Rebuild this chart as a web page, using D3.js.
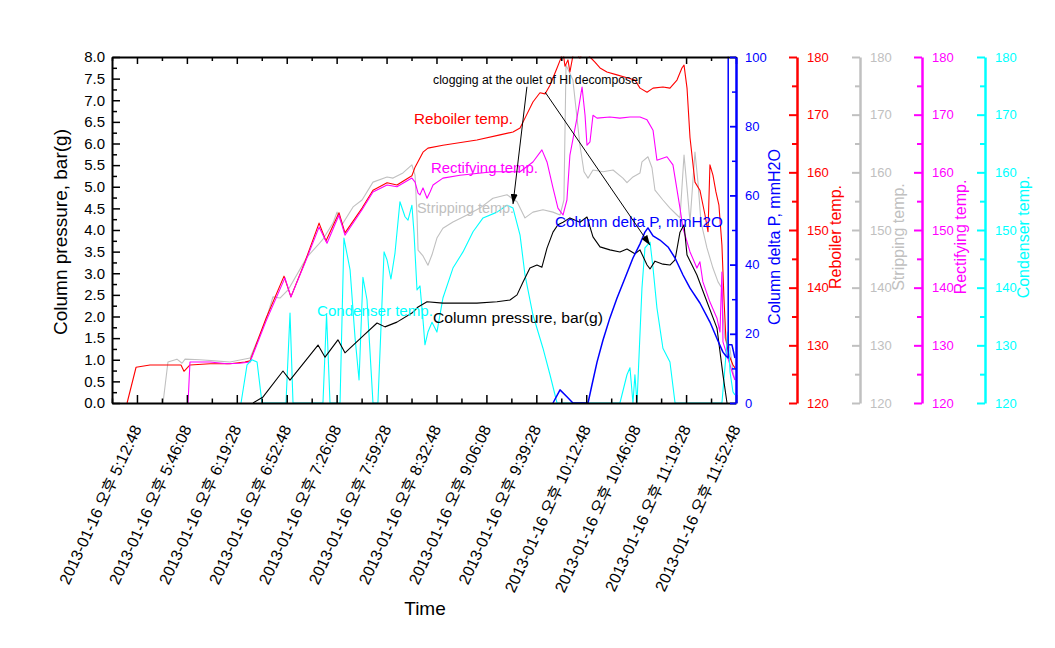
<!DOCTYPE html>
<html><head><meta charset="utf-8">
<script src="https://cdn.jsdelivr.net/npm/d3@7"></script>
<style>
body{margin:0;background:#fff}
svg{display:block}
text{font-family:"Liberation Sans",Arial,"Noto Sans CJK KR",sans-serif}
</style>
</head><body>
<svg id="c" width="1055" height="648"></svg>
<script>
// ---- DATA (time = minutes after 17:00 on 2013-01-16) ----
const xTickLabels = ["2013-01-16 오후 5:12:48","2013-01-16 오후 5:46:08","2013-01-16 오후 6:19:28","2013-01-16 오후 6:52:48","2013-01-16 오후 7:26:08","2013-01-16 오후 7:59:28","2013-01-16 오후 8:32:48","2013-01-16 오후 9:06:08","2013-01-16 오후 9:39:28","2013-01-16 오후 10:12:48","2013-01-16 오후 10:46:08","2013-01-16 오후 11:19:28","2013-01-16 오후 11:52:48"];
const pressureTicks = [0,0.5,1,1.5,2,2.5,3,3.5,4,4.5,5,5.5,6,6.5,7,7.5,8];
const deltaPTicks = [0,20,40,60,80,100];
const tempTicks = [120,130,140,150,160,170,180];

const reboiler = [[6.2,120.0],[12.2,126.2],[21.5,126.6],[34.9,126.6],[42.2,126.6],[44.2,125.5],[48.2,126.6],[61.6,126.8],[74.9,126.8],[84.9,127.1],[88.3,127.3],[99.0,134.7],[111.0,142.0],[115.6,138.4],[125.0,144.5],[134.4,151.2],[139.0,148.1],[147.7,153.0],[151.7,149.5],[163.1,153.8],[170.4,156.9],[179.8,158.2],[186.4,157.8],[196.4,159.4],[198.5,160.9],[203.8,163.5],[207.1,164.2],[217.1,164.7],[239.8,165.6],[255.2,166.5],[263.9,167.0],[268.6,167.7],[271.9,169.4],[277.2,172.2],[281.9,173.8],[285.3,173.6],[288.6,175.1],[293.3,178.1],[295.9,179.8],[297.3,180.9],[298.6,178.4],[300.6,179.5],[301.9,177.4],[304.6,181.2],[308.6,179.8],[311.3,181.2],[315.3,180.0],[318.6,179.1],[322.0,178.1],[326.6,177.4],[333.3,176.9],[340.0,176.4],[345.3,176.0],[348.7,174.6],[353.4,173.9],[357.4,174.6],[364.0,174.8],[368.7,174.6],[373.4,176.0],[376.7,178.1],[378.1,178.6],[380.1,174.6],[382.1,166.0],[385.4,158.3],[388.7,156.9],[392.1,152.6],[394.1,149.7],[395.4,161.3],[397.4,159.5],[399.4,156.6],[401.4,154.3],[403.4,147.4],[404.8,137.9],[406.1,130.9],[408.1,128.3],[410.8,126.6],[412.1,126.1]];

const stripping = [[30.2,120.0],[33.5,127.1],[39.5,127.6],[42.9,126.9],[44.9,127.6],[54.9,127.5],[64.9,127.3],[74.9,127.1],[88.3,127.8],[99.0,134.4],[103.6,138.4],[108.3,138.2],[113.7,139.6],[126.3,145.3],[133.7,147.4],[137.0,148.4],[143.7,151.2],[146.4,153.1],[149.7,150.9],[157.1,154.0],[163.1,155.2],[170.4,158.3],[179.8,159.2],[183.8,159.0],[190.4,159.9],[196.4,161.3],[198.5,159.5],[199.8,152.6],[200.5,146.5],[203.8,145.5],[207.1,143.9],[209.8,145.7],[213.1,148.6],[217.1,150.3],[223.8,151.4],[233.2,152.6],[241.8,153.8],[250.5,155.5],[259.9,156.1],[266.6,154.9],[271.9,152.1],[277.2,153.1],[283.9,153.5],[290.6,153.1],[295.3,152.6],[297.9,155.2],[299.3,178.6],[303.9,176.0],[308.6,164.7],[311.3,160.1],[314.0,159.0],[317.3,160.4],[324.0,160.1],[330.7,160.4],[337.3,159.0],[340.0,158.2],[344.0,159.2],[348.7,159.9],[350.0,161.8],[354.0,162.7],[356.7,160.8],[358.7,156.9],[364.0,155.2],[368.7,153.8],[373.4,152.6],[375.4,152.1],[378.1,163.0],[380.1,157.3],[382.1,151.4],[385.4,163.5],[387.4,158.3],[389.4,151.4],[393.4,146.9],[397.4,143.4],[400.8,141.0],[403.4,139.9],[404.1,135.3],[405.4,131.3],[408.8,129.5],[410.8,125.4],[412.1,124.0]];

const rectifying = [[46.9,120.0],[48.2,127.1],[61.6,127.1],[72.9,126.8],[81.6,126.9],[88.3,127.1],[99.0,134.2],[111.6,141.7],[115.6,138.4],[125.0,144.3],[134.4,150.5],[139.7,147.7],[147.7,152.6],[151.7,149.1],[163.1,153.5],[170.4,156.6],[179.8,157.8],[186.4,157.5],[196.4,159.0],[198.5,158.3],[200.5,156.4],[201.8,156.1],[203.8,157.3],[206.5,155.5],[208.5,156.6],[210.5,157.8],[217.1,159.0],[228.5,159.5],[250.5,160.1],[268.6,160.1],[277.2,161.8],[283.2,163.9],[286.6,161.8],[290.6,157.3],[293.9,153.8],[297.3,152.6],[299.9,155.2],[301.9,163.0],[306.6,169.4],[310.0,174.8],[312.0,169.9],[313.3,164.7],[315.3,165.3],[317.3,169.9],[320.0,169.4],[328.6,169.6],[335.3,169.4],[342.0,169.6],[348.7,169.6],[353.4,169.1],[357.4,167.3],[360.0,162.1],[366.7,162.7],[370.7,161.3],[375.4,153.8],[377.4,150.3],[382.1,146.2],[386.7,143.4],[388.7,144.5],[390.7,141.0],[395.4,137.5],[400.1,134.7],[402.1,132.3],[403.4,142.7],[404.1,130.6],[406.8,128.3],[410.8,124.9],[412.1,124.0]];

const condenser = [[82.3,120.0],[86.3,126.6],[89.6,127.5],[93.0,127.1],[96.3,120.0],[112.3,120.0],[115.0,135.6],[117.0,120.0],[137.0,120.0],[139.4,135.4],[141.7,120.0],[148.4,120.0],[151.0,148.6],[155.1,143.1],[158.4,131.4],[161.1,124.0],[163.7,141.8],[166.4,137.9],[170.4,120.0],[173.7,120.0],[177.8,146.2],[179.8,144.8],[182.4,141.5],[185.1,146.0],[188.4,154.9],[191.8,152.3],[193.8,151.7],[196.4,154.3],[197.8,149.5],[199.8,139.6],[201.8,140.3],[203.8,134.4],[205.1,130.1],[207.1,132.3],[209.8,134.0],[213.1,132.3],[217.1,138.2],[223.8,143.4],[230.5,146.2],[237.2,149.7],[243.9,152.1],[253.2,153.1],[259.9,154.3],[263.9,153.8],[268.6,149.1],[271.9,142.2],[277.2,135.3],[283.9,129.5],[288.6,124.9],[293.3,120.0],[335.3,120.0],[340.0,124.9],[342.0,126.1],[344.0,120.0],[345.3,124.9],[346.7,120.0],[350.0,139.9],[352.0,146.9],[355.4,147.9],[357.4,143.4],[360.0,136.5],[364.0,129.5],[368.7,127.1],[372.1,120.0],[403.4,120.0],[405.4,126.1],[407.4,132.3],[408.8,125.4],[410.8,121.9],[412.1,121.4]];

const pressure = [[90.3,0.00],[97.0,0.14],[110.3,0.74],[115.0,0.53],[133.7,1.34],[138.4,1.06],[147.0,1.46],[151.7,1.16],[163.1,1.53],[173.1,1.85],[178.4,1.76],[186.4,1.87],[196.4,2.08],[200.5,2.22],[206.5,2.34],[217.1,2.31],[239.8,2.31],[253.2,2.34],[261.9,2.38],[266.6,2.50],[270.6,2.80],[275.2,3.12],[279.9,3.19],[283.2,3.14],[286.6,3.58],[290.6,3.95],[293.9,4.12],[297.3,4.18],[301.9,4.28],[308.6,4.18],[313.3,4.30],[317.3,3.84],[322.0,3.61],[328.6,3.54],[335.3,3.49],[340.0,3.56],[345.3,3.45],[348.7,3.54],[353.4,3.19],[355.4,3.10],[358.7,3.28],[364.0,3.21],[368.7,3.19],[372.1,3.31],[375.4,3.95],[378.1,4.12],[380.1,3.42],[386.7,2.96],[393.4,2.34],[400.1,1.73],[404.1,0.65],[406.8,0.00]];

const deltaP = [[290.6,0.0],[295.3,3.8],[299.9,1.8],[303.9,0.0],[314.0,0.0],[316.6,5.2],[320.0,11.8],[324.0,18.2],[328.6,24.6],[333.3,30.3],[338.7,36.1],[344.0,41.9],[348.7,46.0],[352.0,49.4],[354.0,50.6],[357.4,48.3],[362.0,47.1],[367.4,45.1],[372.1,41.9],[377.4,37.0],[382.1,33.2],[388.7,28.9],[395.4,23.4],[400.8,17.9],[404.1,14.7],[406.1,13.6],[407.6,13.0],[407.6,100],[407.6,16.8],[410.1,16.8],[412.1,13.0]];

// annotation texts (anchored in time / pressure units)
const noteTexts = ["Reboiler temp.","Rectifying temp.","Stripping temp.","Column delta P, mmH2O","Column pressure, bar(g)","Condenser temp.","clogging at the oulet of HI decomposer"];
const noteAnchors = [[197.8,6.45],[209.1,5.31],[199.8,4.39],[291.9,4.08],[210.5,1.85],[133.0,2.01],[210.5,7.38]];
const arrows = [[[273.2,7.31],[263.9,4.60]],[[285.3,7.19],[355.4,3.65]]];

// ---- LAYOUT ----
const W=1055,H=648, L=112, R=736, T=57, B=403;
const base = new Date(2013,0,16,17,0,0).getTime();
const toDate = m => new Date(base + m*60000);
const x = d3.scaleTime().domain([new Date(2013,0,16,16,56,8), new Date(2013,0,16,23,52,48)]).range([L,R]);
const yP = d3.scaleLinear().domain([0,8]).range([B,T]);
const yD = d3.scaleLinear().domain([0,100]).range([B,T]);
const yT = d3.scaleLinear().domain([120,180]).range([B,T]);

const parseLabel = s => { const m = s.match(/(\d+):(\d+):(\d+)$/); return new Date(2013,0,16,(+m[1])%12+12,+m[2],+m[3]); };
const majorDates = xTickLabels.map(parseLabel);
const minorDates = d3.range(0,13).map(i => new Date(majorDates[0].getTime() - 1000000 + i*2000000));

const svg = d3.select("#c");
svg.append("rect").attr("width",W).attr("height",H).attr("fill","#fff");
const defs = svg.append("defs");
defs.append("clipPath").attr("id","clip").append("rect").attr("x",L).attr("y",T-0.5).attr("width",R-L).attr("height",B-T+1);
defs.append("marker").attr("id","arr").attr("markerUnits","userSpaceOnUse").attr("markerWidth",10).attr("markerHeight",7)
  .attr("refX",10).attr("refY",3.5).attr("orient","auto").append("path").attr("d","M0,0L10,3.5L0,7z").attr("fill","#000");

// ---- SERIES ----
const g = svg.append("g").attr("clip-path","url(#clip)");
function drawSeries(data, yScale, color, width){
  g.append("path").datum(data)
    .attr("d", d3.line().x(d=>x(toDate(d[0]))).y(d=>yScale(d[1])))
    .attr("fill","none").attr("stroke",color).attr("stroke-width",width).attr("stroke-linejoin","round");
}
drawSeries(stripping, yT, "#c0c0c0", 1.1);
drawSeries(reboiler, yT, "#ff0000", 1.1);
drawSeries(rectifying, yT, "#ff00ff", 1.1);
drawSeries(condenser, yT, "#00ffff", 1.1);
drawSeries(pressure, yP, "#000000", 1.1);
drawSeries(deltaP, yD, "#0000ff", 1.5);

// ---- AXES ----
function styleAxis(sel, color, lw, tw){
  sel.select(".domain").attr("stroke",color).attr("stroke-width",lw);
  sel.selectAll(".tick line").attr("stroke",color).attr("stroke-width",tw);
  sel.selectAll("text").attr("fill",color);
}
// left
svg.append("g").attr("transform",`translate(${L},0)`)
  .call(d3.axisLeft(yP).tickValues(d3.range(0.25,8,0.5)).tickSize(-5).tickFormat(""))
  .call(s=>{s.select(".domain").remove(); s.selectAll("line").attr("stroke","#000").attr("stroke-width",1.5);});
const la = svg.append("g").attr("transform",`translate(${L},0)`)
  .call(d3.axisLeft(yP).tickValues(pressureTicks).tickFormat(d3.format(".1f")).tickSizeInner(-8).tickSizeOuter(0).tickPadding(7));
styleAxis(la,"#000",2,1.5); la.selectAll("text").attr("font-size",15);
// bottom
svg.append("g").attr("transform",`translate(0,${B})`)
  .call(d3.axisBottom(x).tickValues(minorDates).tickSize(-4.5).tickFormat(""))
  .call(s=>{s.select(".domain").remove(); s.selectAll("line").attr("stroke","#000").attr("stroke-width",1.5);});
const ba = svg.append("g").attr("transform",`translate(0,${B})`)
  .call(d3.axisBottom(x).tickValues(majorDates).tickSizeInner(-8).tickSizeOuter(0).tickFormat(""));
styleAxis(ba,"#000",2,1.5);
// top
svg.append("g").attr("transform",`translate(0,${T})`)
  .call(d3.axisTop(x).tickValues(minorDates).tickSize(-4).tickFormat(""))
  .call(s=>{s.select(".domain").remove(); s.selectAll("line").attr("stroke","#000").attr("stroke-width",1.5);});
const ta = svg.append("g").attr("transform",`translate(0,${T})`)
  .call(d3.axisTop(x).tickValues(majorDates).tickSizeInner(-7).tickSizeOuter(0).tickFormat(""));
styleAxis(ta,"#000",2,1.5);

// x tick labels (rotated)
svg.append("g").selectAll("text").data(majorDates).join("text")
  .attr("transform",d=>`translate(${x(d)},426) rotate(-65)`)
  .attr("text-anchor","end").attr("dy","0.35em").attr("font-size",16).attr("fill","#000")
  .text((d,i)=>xTickLabels[i]);

// blue right axis
svg.append("g").attr("transform",`translate(${R},0)`)
  .call(d3.axisRight(yD).tickValues([10,30,50,70,90]).tickSize(-4).tickFormat(""))
  .call(s=>{s.select(".domain").remove(); s.selectAll("line").attr("stroke","#0000ff").attr("stroke-width",1.5);});
const da = svg.append("g").attr("transform",`translate(${R},0)`)
  .call(d3.axisRight(yD).tickValues(deltaPTicks).tickSizeInner(-6).tickSizeOuter(0).tickPadding(9));
styleAxis(da,"#0000ff",2.5,1.8); da.selectAll("text").attr("font-size",13);

// temperature axes
const tempAxes = [{x:797,c:"#ff0000",t:"Reboiler temp."},{x:860,c:"#c0c0c0",t:"Stripping temp."},{x:922,c:"#ff00ff",t:"Rectifying temp."},{x:985,c:"#00ffff",t:"Condenser temp."}];
tempAxes.forEach(a=>{
  svg.append("g").attr("transform",`translate(${a.x},0)`)
    .call(d3.axisRight(yT).tickValues([125,135,145,155,165,175]).tickSize(-5).tickFormat(""))
    .call(s=>{s.select(".domain").remove(); s.selectAll("line").attr("stroke",a.c).attr("stroke-width",2);});
  const ax = svg.append("g").attr("transform",`translate(${a.x},0)`)
    .call(d3.axisRight(yT).tickValues(tempTicks).tickSizeInner(-8).tickSizeOuter(0).tickPadding(10));
  styleAxis(ax,a.c,2.5,2); ax.selectAll("text").attr("font-size",13);
  svg.append("text").attr("transform",`translate(${a.x+44},237) rotate(-90)`).attr("text-anchor","middle")
    .attr("font-size",16).attr("fill",a.c).text(a.t);
});

// axis titles
svg.append("text").attr("transform",`translate(67,232) rotate(-90)`).attr("text-anchor","middle").attr("font-size",19).attr("fill","#000").text("Column pressure, bar(g)");
svg.append("text").attr("transform",`translate(780,237) rotate(-90)`).attr("text-anchor","middle").attr("font-size",16).attr("fill","#0000ff").text("Column delta P, mmH2O");
svg.append("text").attr("x",425).attr("y",615).attr("text-anchor","middle").attr("font-size",19).attr("fill","#000").text("Time");

// ---- ANNOTATIONS ----
const noteColors = ["#ff0000","#ff00ff","#c0c0c0","#0000ff","#000000","#00ffff","#000000"];
const noteSizes = [15,15,15,15,15.5,15,12];
const noteLens = [99,107,97,168,170,116,209];
svg.append("g").selectAll("text").data(noteTexts).join("text")
  .attr("x",(d,i)=>x(toDate(noteAnchors[i][0]))).attr("y",(d,i)=>yP(noteAnchors[i][1]))
  .attr("fill",(d,i)=>noteColors[i]).attr("font-size",(d,i)=>noteSizes[i])
  .attr("textLength",(d,i)=>noteLens[i]).attr("lengthAdjust","spacingAndGlyphs")
  .text(d=>d);
svg.append("g").selectAll("line").data(arrows).join("line")
  .attr("x1",d=>x(toDate(d[0][0]))).attr("y1",d=>yP(d[0][1]))
  .attr("x2",d=>x(toDate(d[1][0]))).attr("y2",d=>yP(d[1][1]))
  .attr("stroke","#000").attr("stroke-width",1).attr("marker-end","url(#arr)");
</script>
</body></html>
